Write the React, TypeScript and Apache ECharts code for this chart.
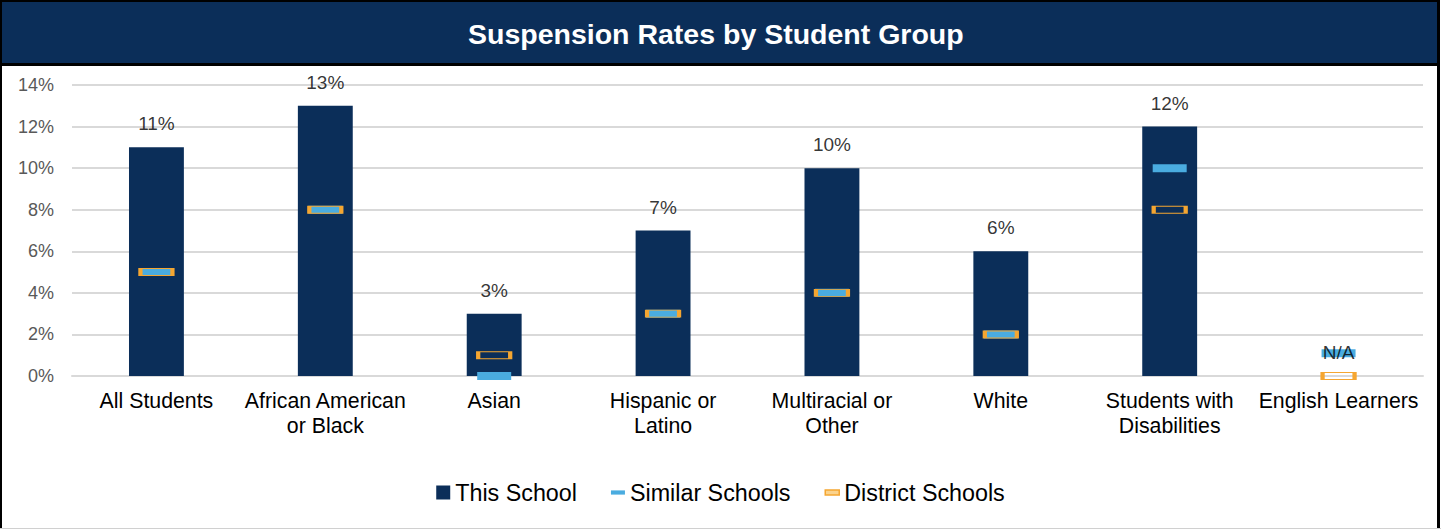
import React, { useEffect, useRef } from "react";
import * as echarts from "echarts";

const categories = [
  "All Students",
  "African American\nor Black",
  "Asian",
  "Hispanic or\nLatino",
  "Multiracial or\nOther",
  "White",
  "Students with\nDisabilities",
  "English Learners",
];
const thisSchool: (number | null)[] = [11, 13, 3, 7, 10, 6, 12, null];
const similarSchools = [5, 8, 0, 3, 4, 2, 10, 1.1];
const districtSchools = [5, 8, 1, 3, 4, 2, 8, 0];
const yTicks = { min: 0, max: 14, interval: 2 };

const NAVY = "#0B2E59";
const BLUE = "#4AACE0";
const ORANGE = "#F5A631";
const FONT = "'Liberation Sans', Arial, sans-serif";

export default function App() {
  const ref = useRef<HTMLDivElement>(null);
  useEffect(() => {
    if (!ref.current) return;
    const chart = echarts.init(ref.current, null, { renderer: "svg" });
    const W = 1441;
    const H = 529;
    chart.setOption({
      animation: false,
      backgroundColor: "#ffffff",
      textStyle: { fontFamily: FONT },
      title: {
        text: "Suspension Rates by Student Group",
        left: 463,
        top: 14,
        textStyle: { color: "#ffffff", fontSize: 28.5, fontWeight: "bold", fontFamily: FONT },
      },
      graphic: [
        { type: "rect", z: -1, shape: { x: 2, y: 2, width: 1435, height: 61 }, style: { fill: NAVY } },
        { type: "rect", z: -1, shape: { x: 2, y: 63, width: 1435, height: 3 }, style: { fill: "#000" } },
        { type: "rect", z: -1, shape: { x: 0, y: 0, width: 2, height: H }, style: { fill: "#000" } },
        { type: "rect", z: -1, shape: { x: 0, y: 0, width: 1439, height: 2 }, style: { fill: "#000" } },
        { type: "rect", z: -1, shape: { x: 1437, y: 0, width: 3, height: H }, style: { fill: "#000" } },
        { type: "rect", z: -1, shape: { x: 0, y: H - 1, width: W, height: 1 }, style: { fill: "#d0d0d0" } },
      ],
      legend: {
        left: "center",
        top: 476,
        itemGap: 34,
        itemWidth: 14,
        itemHeight: 14,
        textStyle: { fontSize: 23.3, color: "#000", fontFamily: FONT },
        data: [
          { name: "This School", icon: "path://M0,0H10V10H0Z", itemStyle: { color: NAVY } },
          { name: "Similar Schools", icon: "path://M0,0H10V3H0Z", itemStyle: { color: BLUE } },
          {
            name: "District Schools",
            icon: "path://M0,0H10V3.5H0Z",
            itemStyle: { color: "#FBD38D", borderColor: ORANGE, borderWidth: 1.5 },
          },
        ],
      },
      grid: { left: 72, right: 18, top: 85, bottom: 153 },
      xAxis: {
        type: "category",
        data: categories,
        axisLine: { show: true, lineStyle: { color: "#d9d9d9", width: 2 } },
        axisTick: { show: false },
        axisLabel: {
          interval: 0,
          color: "#000",
          fontSize: 21.3,
          lineHeight: 25,
          margin: 12,
          fontFamily: FONT,
        },
      },
      yAxis: {
        type: "value",
        min: yTicks.min,
        max: yTicks.max,
        interval: yTicks.interval,
        axisLine: { show: false },
        axisTick: { show: false },
        splitLine: { lineStyle: { color: "#d9d9d9", width: 2 } },
        axisLabel: {
          formatter: "{value}%",
          color: "#595959",
          fontSize: 18,
          margin: 18,
          fontFamily: FONT,
        },
      },
      series: [
        {
          name: "This School",
          type: "bar",
          data: thisSchool.map((v) => (v == null ? 0 : v)),
          barWidth: "32.5%",
          itemStyle: { color: NAVY },
          z: 2,
        },
        {
          name: "Similar Schools",
          type: "scatter",
          data: similarSchools,
          symbol: "rect",
          symbolSize: [34, 8],
          itemStyle: { color: BLUE, opacity: 1 },
          z: 3,
        },
        {
          name: "District Schools",
          type: "scatter",
          data: districtSchools,
          symbol: "rect",
          symbolSize: [32, 7],
          itemStyle: { color: "none", borderColor: ORANGE, borderWidth: 2, opacity: 1 },
          z: 4,
        },
        {
          name: "labels",
          type: "scatter",
          data: thisSchool.map((v) => (v == null ? 0 : v)),
          symbolSize: 0,
          silent: true,
          z: 10,
          label: {
            show: true,
            position: "top",
            distance: 14,
            color: "#000",
            fontSize: 19,
            fontFamily: FONT,
            formatter: (p: any) => {
              const v = thisSchool[p.dataIndex];
              return v == null ? "N/A" : v + "%";
            },
          },
        },
      ],
    });
    return () => chart.dispose();
  }, []);
  return (
    <div
      ref={ref}
      style={{ position: "fixed", left: 0, top: 0, width: 1441, height: 529 }}
    />
  );
}
